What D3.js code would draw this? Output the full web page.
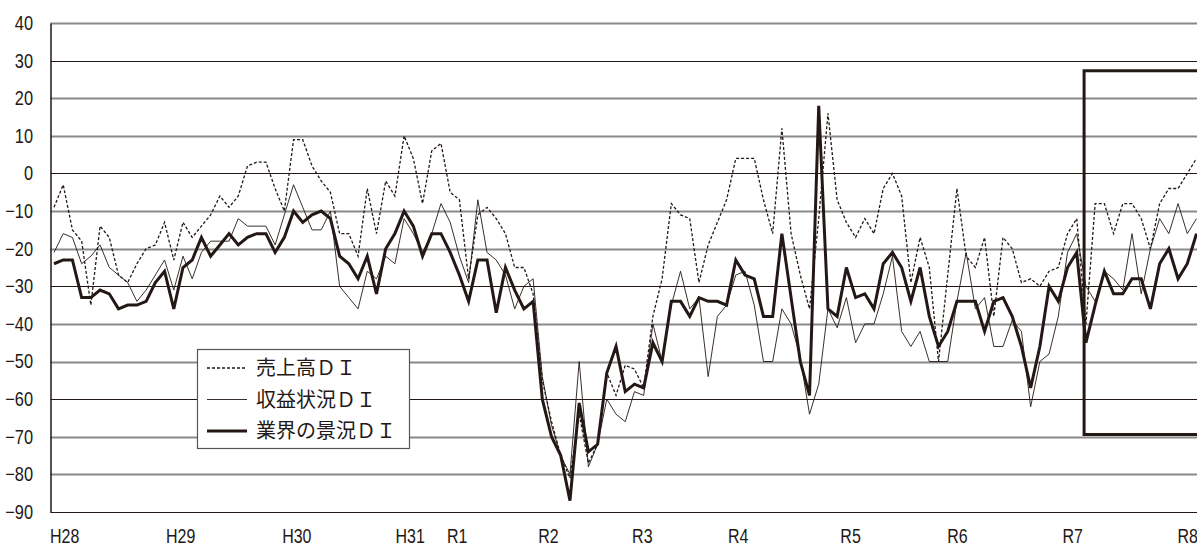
<!DOCTYPE html>
<html>
<head>
<meta charset="utf-8">
<script src="https://cdn.jsdelivr.net/npm/d3@7"></script>
<style>
  body { margin: 0; background: #fff; }
  svg { display: block; }
  .tick text { font-family: "Liberation Sans", Arial, sans-serif; font-size: 20px; fill: #231815; }
  .xaxis .tick text { font-size: 19.5px; }
  .legend text { font-family: "Noto Sans CJK JP", "Noto Sans", sans-serif; font-size: 20px; fill: #231815; }
</style>
</head>
<body>
<svg id="chart" width="1197" height="548"></svg>
<script>
// monthly DI values, H28 .. R8
var salesDI = [-9, -3, -15, -18, -35, -14, -17, -27, -29, -24, -20, -19, -13, -23, -13, -17, -14, -11, -6, -9,
    -6, 2, 3, 3, -4, -10, 9, 9, 2, -2, -5, -16, -16, -22, -4, -16, -2, -6, 10, 4,
    -8, 6, 8, -5, -7, -28, -11, -9, -12, -16, -25, -25, -32, -55, -66, -75, -81, -64, -77, -72,
    -53, -59, -51, -52, -57, -38, -28, -8, -11, -12, -29, -19, -13, -7, 4, 4, 4, -7, -16, 12,
    -16, -27, -36, -12, 16, -7, -13, -17, -12, -16, -4, 0, -6, -29, -17, -25, -50, -27, -4, -22,
    -25, -17, -38, -17, -20, -29, -28, -30, -26, -25, -16, -12, -40, -8, -8, -16, -8, -8, -12, -20,
    -8, -4, -4, 0, 4];
var profitDI = [-21, -16, -17, -24, -22, -19, -25, -27, -29, -34, -31, -27, -23, -31, -22, -28, -21, -18, -18, -18,
    -12, -14, -14, -14, -19, -11, -3, -9, -15, -15, -10, -30, -33, -36, -26, -28, -22, -24, -12, -16,
    -21, -16, -8, -13, -22, -29, -7, -21, -23, -27, -36, -30, -28, -54, -67, -75, -80, -50, -78, -72,
    -60, -64, -66, -58, -59, -40, -50, -35, -26, -36, -33, -54, -38, -35, -27, -26, -35, -50, -50, -36,
    -40, -49, -64, -56, -36, -41, -33, -45, -40, -40, -32, -22, -42, -46, -42, -50, -50, -50, -34, -21,
    -36, -33, -46, -46, -39, -42, -62, -50, -48, -38, -21, -16, -30, -34, -26, -28, -31, -16, -32, -20,
    -12, -16, -8, -16, -12];
var industryDI = [-24, -23, -23, -33, -33, -31, -32, -36, -35, -35, -34, -29, -26, -36, -25, -23, -17, -22, -19, -16,
    -19, -17, -16, -16, -21, -17, -10, -13, -11, -10, -12, -22, -24, -28, -22, -32, -20, -16, -10, -14,
    -22, -16, -16, -21, -27, -34, -23, -23, -37, -25, -31, -36, -34, -60, -70, -75, -87, -61, -74, -72,
    -53, -46, -58, -56, -57, -45, -50, -34, -34, -38, -33, -34, -34, -35, -23, -27, -28, -38, -38, -16,
    -33, -50, -59, 18, -36, -38, -25, -33, -32, -36, -24, -21, -25, -34, -25, -38, -46, -42, -34, -34,
    -34, -42, -34, -33, -38, -46, -57, -46, -30, -34, -25, -21, -45, -35, -26, -32, -32, -28, -28, -36,
    -24, -20, -28, -24, -16];

var yTicks = [40, 30, 20, 10, 0, -10, -20, -30, -40, -50, -60, -70, -80, -90];
var xTickLabels = ["H28", "H29", "H30", "H31", "R1", "R2", "R3", "R4", "R5", "R6", "R7", "R8"];
var xTickPos = [1.1, 13.7, 26.3, 38.6, 43.7, 53.6, 63.8, 74.2, 86.4, 98, 110.5, 123];

var legendNames = ["売上高ＤＩ", "収益状況ＤＩ", "業界の景況ＤＩ"];

// highlighted span at the right end
var boxStart = 111.8, boxTop = 27.3, boxBottom = -69.4;

var ink = "#231815";
var svg = d3.select("#chart");
var width = 1197;
var narrow = 0.82; // squeeze Liberation Sans to look like a narrow face

var x = d3.scaleLinear().domain([0, industryDI.length - 1]).range([54, 1196.5]);
var y = d3.scaleLinear().domain([-90, 40]).range([512, 23]);

// grid lines
svg.append("g").selectAll("line")
    .data(yTicks)
    .enter()
    .append("line")
    .attr("x1", 50.5)
    .attr("x2", width)
    .attr("y1", function (d) { return Math.round(y(d)) + 0.5; })
    .attr("y2", function (d) { return Math.round(y(d)) + 0.5; })
    .attr("stroke", function (d) { return d % 30 === 0 ? ink : "#8a8a8a"; })
    .attr("stroke-width", function (d) { return d % 30 === 0 ? 1.2 : 1.8; });

// y axis
var yAxis = svg.append("g")
    .attr("transform", "translate(50.5,0)")
    .call(d3.axisLeft(y).tickValues(yTicks).tickSize(0).tickSizeOuter(0).tickPadding(17));
yAxis.select(".domain").attr("stroke", ink).attr("stroke-width", 1.5);
yAxis.selectAll(".tick text")
    .attr("x", -17.5 / narrow)
    .attr("transform", "scale(" + narrow + ",1)");

// x axis labels
var xAxis = svg.append("g")
    .attr("class", "xaxis")
    .attr("transform", "translate(0,512)")
    .call(d3.axisBottom(x).tickValues(xTickPos).tickSize(0).tickPadding(17.5)
        .tickFormat(function (d, i) { return xTickLabels[i]; }));
xAxis.select(".domain").remove();
xAxis.selectAll(".tick text").attr("transform", "scale(" + narrow + ",1)");

var line = d3.line()
    .x(function (d, i) { return x(i); })
    .y(function (d) { return y(d); });

var series = [
    { name: legendNames[0], values: salesDI, width: 1.3, dash: "3,2" },
    { name: legendNames[1], values: profitDI, width: 0.9, dash: null },
    { name: legendNames[2], values: industryDI, width: 3, dash: null }
];

svg.append("g").selectAll("path")
    .data(series)
    .enter()
    .append("path")
    .attr("d", function (d) { return line(d.values); })
    .attr("fill", "none")
    .attr("stroke", ink)
    .attr("stroke-width", function (d) { return d.width; })
    .attr("stroke-dasharray", function (d) { return d.dash; })
    .attr("stroke-linejoin", "miter");

// box around the latest period
svg.append("rect")
    .attr("x", x(boxStart))
    .attr("y", y(boxTop))
    .attr("width", width + 10 - x(boxStart))
    .attr("height", y(boxBottom) - y(boxTop))
    .attr("fill", "none")
    .attr("stroke", ink)
    .attr("stroke-width", 3);

// legend
var legend = svg.append("g").attr("class", "legend");
legend.append("rect")
    .attr("x", 197.5).attr("y", 349.5)
    .attr("width", 212).attr("height", 99)
    .attr("fill", "#fff")
    .attr("stroke", "#555")
    .attr("stroke-width", 1.2);

var items = legend.selectAll("g.item")
    .data(series)
    .enter()
    .append("g")
    .attr("class", "item")
    .attr("transform", function (d, i) { return "translate(207," + (368 + i * 31.5) + ")"; });

items.append("line")
    .attr("x1", 0).attr("x2", 40)
    .attr("stroke", ink)
    .attr("stroke-width", function (d) { return d.width; })
    .attr("stroke-dasharray", function (d) { return d.dash; });

items.append("text")
    .attr("x", 49)
    .attr("dy", "0.36em")
    .text(function (d) { return d.name; });
</script>
</body>
</html>
